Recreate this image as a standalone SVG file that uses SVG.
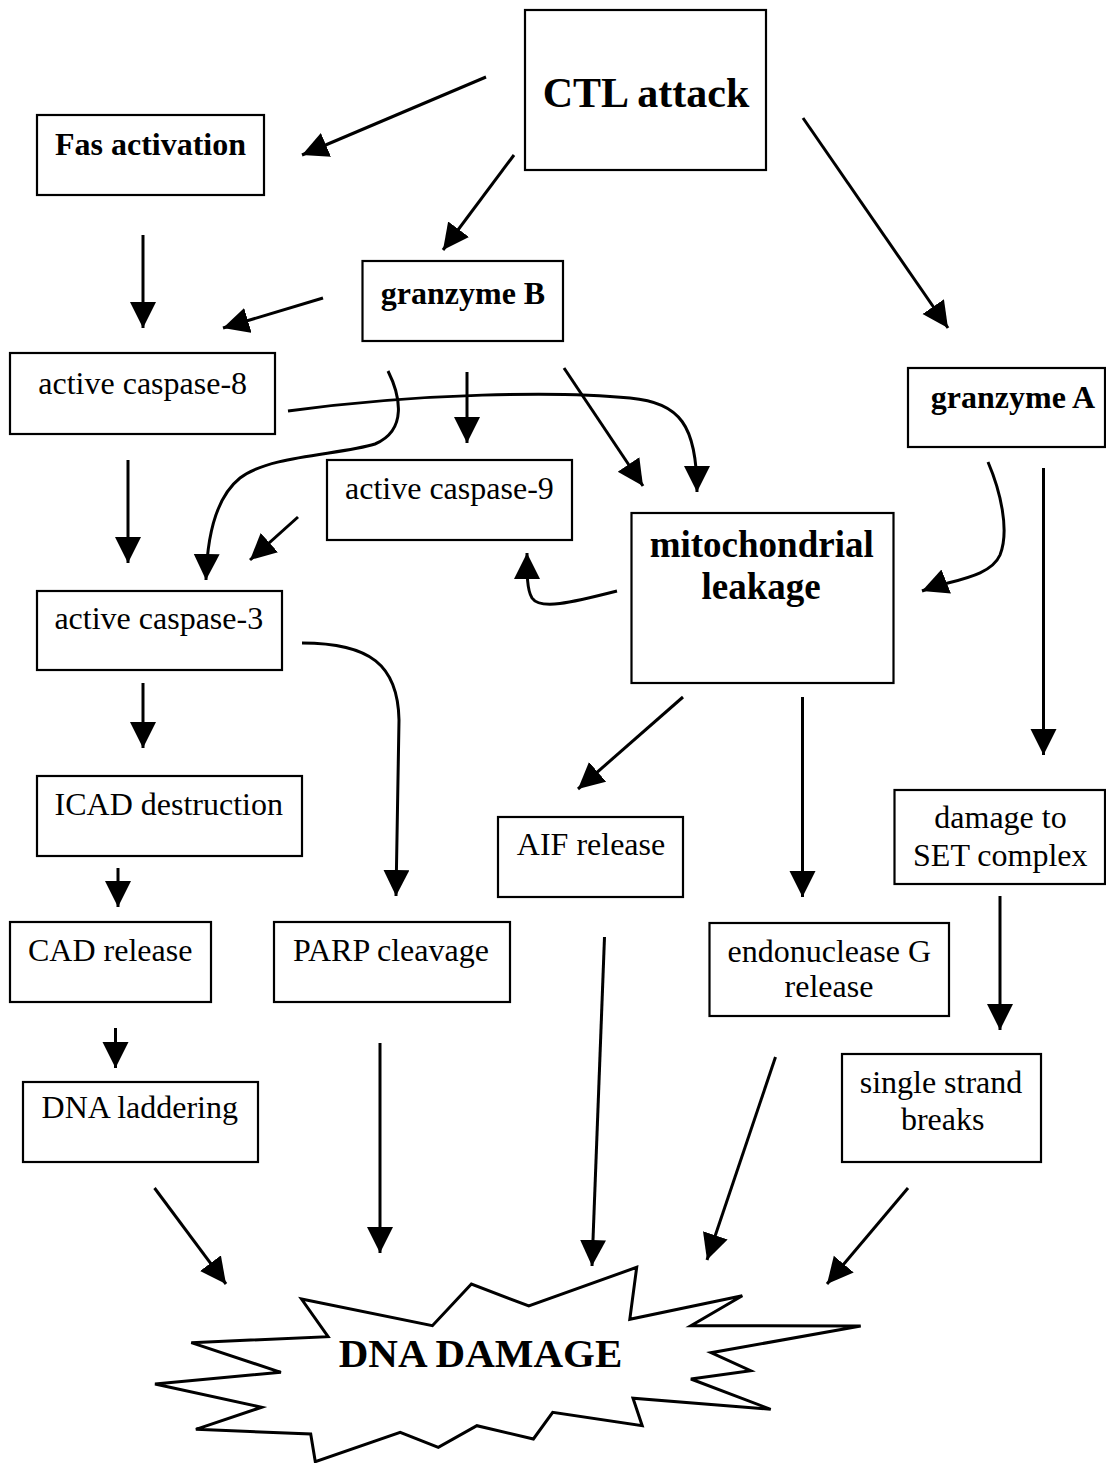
<svg xmlns="http://www.w3.org/2000/svg" width="1106" height="1463" viewBox="0 0 1106 1463">
<defs>
<style>
.box{fill:#fff;stroke:#000;stroke-width:2.2}
.t{font-family:"Liberation Serif","Times New Roman",serif;font-size:32px;text-anchor:middle;fill:#000}
.b{font-weight:bold}
.c{fill:none;stroke:#000;stroke-width:3;marker-end:url(#ah)}
</style>
<marker id="ah" markerUnits="userSpaceOnUse" markerWidth="27" markerHeight="27" refX="26" refY="13" orient="auto" viewBox="0 0 27 27">
<path d="M0,0 L26,13 L0,26 z" fill="#000"/>
</marker>
</defs>
<rect width="1106" height="1463" fill="#fff"/>

<g id="connectors">
<line class="c" x1="486" y1="77" x2="302" y2="155"/>
<line class="c" x1="514" y1="155" x2="443" y2="250"/>
<line class="c" x1="803" y1="118" x2="948" y2="328"/>
<line class="c" x1="143" y1="235" x2="143" y2="328"/>
<line class="c" x1="323" y1="298" x2="223" y2="328"/>
<line class="c" x1="467" y1="372" x2="467" y2="443"/>
<line class="c" x1="564" y1="368" x2="643" y2="486"/>
<path class="c" d="M288,411 C420,393 560,391 630,398 C680,403 697,425 697,492"/>
<path class="c" d="M388,371 C400,395 408,430 375,444 C340,455 270,455 240,478 C215,498 207,540 206,580"/>
<line class="c" x1="128" y1="460" x2="128" y2="563"/>
<line class="c" x1="298" y1="517" x2="250" y2="560"/>
<path class="c" d="M617,591 C570,603 540,610 532,598 C527,590 527,575 527,553"/>
<path class="c" d="M988,462 C1000,490 1010,530 1000,555 C990,578 950,580 922,591"/>
<line class="c" x1="1043.5" y1="468" x2="1043.5" y2="755"/>
<line class="c" x1="143" y1="683" x2="143" y2="748"/>
<path class="c" d="M302,643 C370,643 398,665 399,720 L396,896"/>
<line class="c" x1="683" y1="697" x2="578" y2="789"/>
<line class="c" x1="802.5" y1="697" x2="802.5" y2="897"/>
<line class="c" x1="118" y1="868" x2="118" y2="907"/>
<line class="c" x1="1000" y1="896" x2="1000" y2="1030"/>
<line class="c" x1="115.5" y1="1028" x2="115.5" y2="1068"/>
<line class="c" x1="380" y1="1043" x2="380" y2="1253"/>
<line class="c" x1="604.5" y1="937" x2="592" y2="1266"/>
<line class="c" x1="775.5" y1="1057" x2="707" y2="1260"/>
<line class="c" x1="908" y1="1188" x2="827" y2="1284"/>
<line class="c" x1="154.5" y1="1188" x2="226" y2="1284"/>
</g>

<g id="ctl-attack">
<rect class="box" x="525" y="10" width="241" height="160"/>
<text class="t b" x="646" y="107" style="font-size:42px">CTL attack</text>
</g>
<g id="fas-activation">
<rect class="box" x="37" y="115" width="227" height="80"/>
<text class="t b" x="150.5" y="155">Fas activation</text>
</g>
<g id="granzyme-b">
<rect class="box" x="362.5" y="261" width="200.5" height="80"/>
<text class="t b" x="463" y="304">granzyme B</text>
</g>
<g id="granzyme-a">
<rect class="box" x="908" y="368" width="197" height="79"/>
<text class="t b" x="1013" y="408">granzyme A</text>
</g>
<g id="caspase-8">
<rect class="box" x="10" y="353" width="265" height="81"/>
<text class="t" x="142.7" y="394">active caspase-8</text>
</g>
<g id="caspase-9">
<rect class="box" x="327" y="460" width="245" height="80"/>
<text class="t" x="449.4" y="499">active caspase-9</text>
</g>
<g id="mitochondrial-leakage">
<rect class="box" x="631.5" y="513" width="262" height="170"/>
<text class="t b" x="761.7" y="557" style="font-size:37px">mitochondrial</text>
<text class="t b" x="761.2" y="599" style="font-size:37px">leakage</text>
</g>
<g id="caspase-3">
<rect class="box" x="37" y="591" width="245" height="79"/>
<text class="t" x="158.8" y="629">active caspase-3</text>
</g>
<g id="icad-destruction">
<rect class="box" x="37" y="776" width="265" height="80"/>
<text class="t" x="168.8" y="815">ICAD destruction</text>
</g>
<g id="aif-release">
<rect class="box" x="498" y="817" width="185" height="80"/>
<text class="t" x="591" y="855">AIF release</text>
</g>
<g id="set-complex">
<rect class="box" x="894.5" y="790" width="210.5" height="94"/>
<text class="t" x="1000.5" y="828">damage to</text>
<text class="t" x="1000.3" y="866">SET complex</text>
</g>
<g id="cad-release">
<rect class="box" x="10" y="922" width="201" height="80"/>
<text class="t" x="110.2" y="961">CAD release</text>
</g>
<g id="parp-cleavage">
<rect class="box" x="274" y="922" width="236" height="80"/>
<text class="t" x="391" y="961">PARP cleavage</text>
</g>
<g id="endonuclease-g">
<rect class="box" x="709.5" y="923" width="239.5" height="93"/>
<text class="t" x="829.3" y="962">endonuclease G</text>
<text class="t" x="829" y="997">release</text>
</g>
<g id="dna-laddering">
<rect class="box" x="23" y="1082" width="235" height="80"/>
<text class="t" x="139.8" y="1118">DNA laddering</text>
</g>
<g id="single-strand-breaks">
<rect class="box" x="842" y="1054" width="199" height="108"/>
<text class="t" x="941" y="1093">single strand</text>
<text class="t" x="942.7" y="1130">breaks</text>
</g>
<g id="dna-damage">
<polygon points="301.5,1299 432.4,1325.7 471.4,1284 528.8,1306 636.7,1267.3 629.8,1319.3 742.3,1295.7 690.9,1325.7 860.7,1326 711.1,1352.7 750.6,1370.7 690.9,1379 770.7,1409.3 633,1398.3 642.2,1425.7 552.7,1412.3 533.4,1439 476.9,1425.7 438.3,1447.3 400.2,1432.3 315.3,1461.7 310.7,1434 195.9,1429.3 261.6,1407.3 155,1384 280.9,1372.3 191.3,1342.7 328.1,1336.7" fill="#fff" stroke="#000" stroke-width="3" stroke-linejoin="miter"/>
<text class="t b" x="480.5" y="1367" style="font-size:41px">DNA DAMAGE</text>
</g>
</svg>
